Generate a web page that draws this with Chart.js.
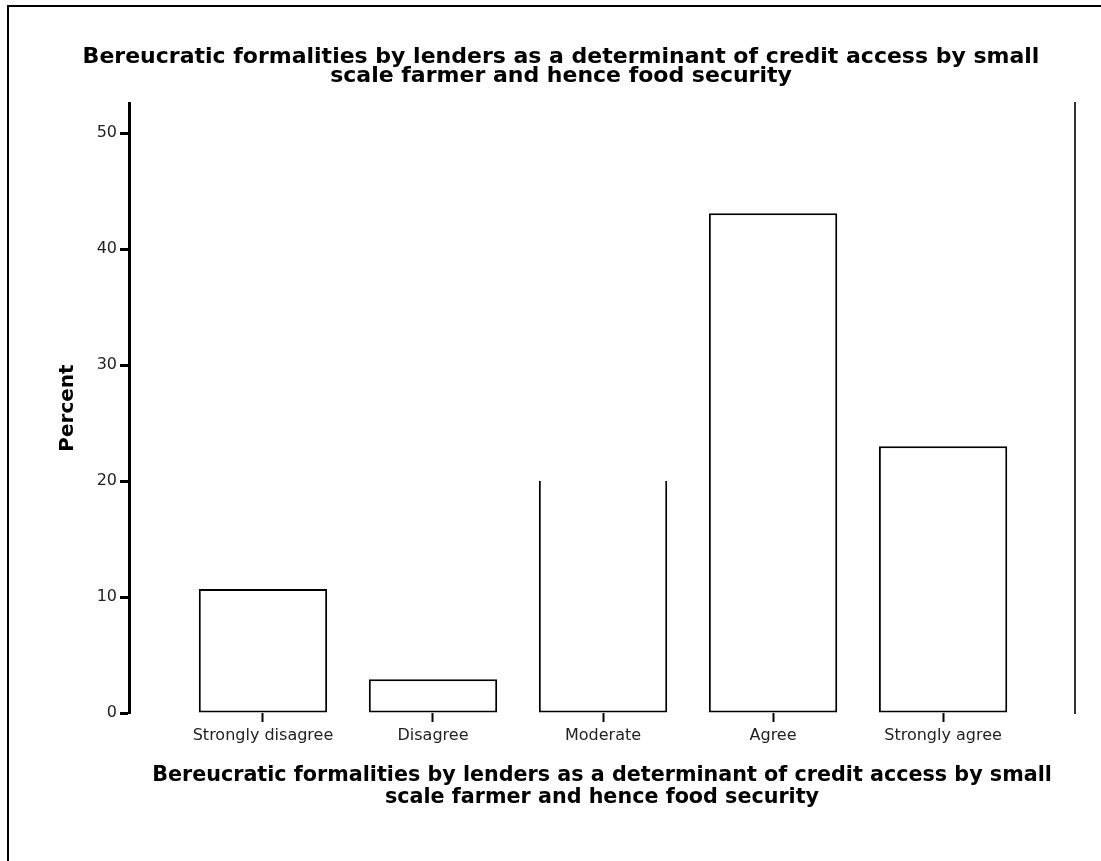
<!DOCTYPE html>
<html>
<head>
<meta charset="utf-8">
<title>Bereucratic formalities by lenders</title>
<script src="https://cdn.jsdelivr.net/npm/chart.js@4.4.1/dist/chart.umd.min.js"></script>
<style>
  html, body { margin: 0; padding: 0; background: #fff; overflow: hidden; }
  #frame { position: absolute; left: 7px; top: 5px; width: 1200px; height: 1000px; border-left: 2px solid #000; border-top: 2px solid #000; }
  #chart-wrap { position: absolute; left: 0; top: 0; }
</style>
</head>
<body>
<div id="frame"></div>
<div id="chart-wrap"><canvas id="formalitiesChart" width="1122" height="861"></canvas></div>
<script>
// values (percent of respondents)
const categories = ["Strongly disagree", "Disagree", "Moderate", "Agree", "Strongly agree"];
const percents = [10.7, 2.9, 20.0, 43.1, 23.0];
const yTicks = [0, 10, 20, 30, 40, 50];
const titleLines = [
    "Bereucratic formalities by lenders as a determinant of credit access by small",
    "scale farmer and hence food security"
];

const FONT = "DejaVu Sans";

function buildPoints() {
    return percents.map((v, i) => ({ x: i, y: v }));
}

function drawChart() {
    const ctx = document.getElementById('formalitiesChart').getContext('2d');

    new Chart(ctx, {
        type: 'bar',
        data: {
            datasets: [{
                label: 'Percent',
                data: buildPoints(),
                backgroundColor: '#ffffff',
                borderColor: '#000000',
                borderWidth: 2,
                // the Moderate bar has no top edge in the original
                borderSkipped: c => c.dataIndex === 2 ? 'top' : false,
                categoryPercentage: 1,
                barPercentage: 0.755
            }]
        },
        options: {
            responsive: false,
            animation: false,
            layout: {
                padding: { left: 47, right: 47, top: 0, bottom: 0 }
            },
            plugins: {
                legend: { display: false },
                tooltip: { enabled: false },
                title: {
                    display: true,
                    text: titleLines,
                    color: '#000',
                    font: { family: FONT, weight: 'bold', size: 22, lineHeight: '19px' },
                    padding: { top: 48, bottom: 17 }
                }
            },
            scales: {
                x: {
                    type: 'linear',
                    min: -0.788,
                    max: 4.776,
                    offset: false,
                    afterBuildTicks: s => { s.ticks = categories.map((_, i) => ({ value: i })); },
                    afterFit: s => { s.height = 148; },
                    border: { display: false },
                    grid: {
                        offset: false,
                        drawOnChartArea: false,
                        drawTicks: true,
                        tickLength: 9,
                        tickWidth: 2,
                        tickColor: '#000'
                    },
                    ticks: {
                        callback: v => categories[v],
                        color: '#222',
                        font: { family: FONT, size: 16 },
                        padding: 4,
                        maxRotation: 0,
                        autoSkip: false
                    },
                    title: {
                        display: true,
                        text: titleLines,
                        color: '#000',
                        font: { family: FONT, weight: 'bold', size: 20.7, lineHeight: '21.5px' },
                        padding: { top: 0, bottom: 53 }
                    }
                },
                y: {
                    min: 0,
                    max: 52.6,
                    afterBuildTicks: s => { s.ticks = yTicks.map(v => ({ value: v })); },
                    afterFit: s => { s.width = 82; },
                    border: { display: true, color: '#000', width: 3 },
                    grid: {
                        drawOnChartArea: false,
                        tickLength: 9,
                        tickWidth: 3,
                        tickColor: '#000'
                    },
                    ticks: {
                        color: '#222',
                        font: { family: FONT, size: 16 },
                        padding: 3
                    },
                    title: {
                        display: true,
                        text: 'Percent',
                        color: '#000',
                        font: { family: FONT, weight: 'bold', size: 20, lineHeight: 1.2 },
                        padding: { top: 9, bottom: 0 }
                    }
                },
                y2: {
                    position: 'right',
                    min: 0,
                    max: 52.6,
                    ticks: { display: false },
                    grid: { display: false },
                    border: { display: true, color: '#333', width: 2 },
                    afterFit: s => { s.width = 0; }
                }
            }
        }
    });
}

drawChart();
</script>
</body>
</html>
